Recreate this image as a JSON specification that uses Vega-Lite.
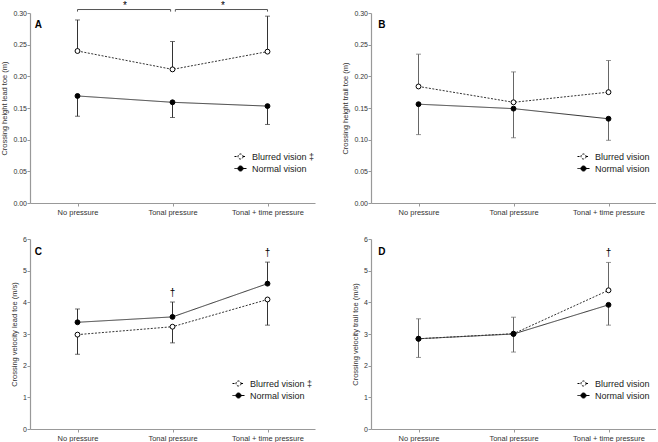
{
  "$schema": "https://vega.github.io/schema/vega-lite/v6.json",
  "padding": 0,
  "background": "white",
  "config": {
    "font": "Liberation Sans",
    "view": {"stroke": null},
    "axis": {
      "grid": false,
      "domainColor": "#999",
      "domainWidth": 1.2,
      "tickColor": "#999",
      "tickSize": 3,
      "labelFontSize": 7.5,
      "labelColor": "#333",
      "labelOverlap": false,
      "labelBound": false,
      "titleFontSize": 7.5,
      "titleFontWeight": "normal",
      "titleColor": "#333"
    },
    "axisY": {"labelFontSize": 7, "labelPadding": 0.5, "titlePadding": 4, "labelOverlap": false},
    "axisX": {"labelPadding": 2},
    "legend": {
      "orient": "none",
      "title": null,
      "padding": 0,
      "symbolType": "M-1,0L-0.42,0M0.42,0L1,0M0.42,0A0.42,0.42,0,1,1,-0.42,0A0.42,0.42,0,1,1,0.42,0Z",
      "symbolSize": 144,
      "symbolStrokeColor": "black",
      "symbolStrokeWidth": 1,
      "labelFontSize": 9,
      "labelColor": "#222",
      "labelOffset": 5,
      "rowPadding": 0
    }
  },
  "datasets": {
    "pts": [
      {"panel": "A", "cond": "No pressure", "pos": 0, "group": "Blurred vision", "value": 0.240, "err": 0.289},
      {"panel": "A", "cond": "Tonal pressure", "pos": 1, "group": "Blurred vision", "value": 0.211, "err": 0.255},
      {"panel": "A", "cond": "Tonal + time pressure", "pos": 2, "group": "Blurred vision", "value": 0.239, "err": 0.295},
      {"panel": "A", "cond": "No pressure", "pos": 0, "group": "Normal vision", "value": 0.169, "err": 0.137},
      {"panel": "A", "cond": "Tonal pressure", "pos": 1, "group": "Normal vision", "value": 0.159, "err": 0.135},
      {"panel": "A", "cond": "Tonal + time pressure", "pos": 2, "group": "Normal vision", "value": 0.153, "err": 0.124},
      {"panel": "B", "cond": "No pressure", "pos": 0, "group": "Blurred vision", "value": 0.184, "err": 0.235},
      {"panel": "B", "cond": "Tonal pressure", "pos": 1, "group": "Blurred vision", "value": 0.159, "err": 0.207},
      {"panel": "B", "cond": "Tonal + time pressure", "pos": 2, "group": "Blurred vision", "value": 0.175, "err": 0.225},
      {"panel": "B", "cond": "No pressure", "pos": 0, "group": "Normal vision", "value": 0.156, "err": 0.108},
      {"panel": "B", "cond": "Tonal pressure", "pos": 1, "group": "Normal vision", "value": 0.149, "err": 0.103},
      {"panel": "B", "cond": "Tonal + time pressure", "pos": 2, "group": "Normal vision", "value": 0.133, "err": 0.099},
      {"panel": "C", "cond": "No pressure", "pos": 0, "group": "Blurred vision", "value": 2.98, "err": 2.36},
      {"panel": "C", "cond": "Tonal pressure", "pos": 1, "group": "Blurred vision", "value": 3.23, "err": 2.72},
      {"panel": "C", "cond": "Tonal + time pressure", "pos": 2, "group": "Blurred vision", "value": 4.09, "err": 3.28},
      {"panel": "C", "cond": "No pressure", "pos": 0, "group": "Normal vision", "value": 3.37, "err": 3.79},
      {"panel": "C", "cond": "Tonal pressure", "pos": 1, "group": "Normal vision", "value": 3.54, "err": 4.01},
      {"panel": "C", "cond": "Tonal + time pressure", "pos": 2, "group": "Normal vision", "value": 4.59, "err": 5.27},
      {"panel": "D", "cond": "No pressure", "pos": 0, "group": "Blurred vision", "value": 2.85, "err": 3.48},
      {"panel": "D", "cond": "Tonal pressure", "pos": 1, "group": "Blurred vision", "value": 3.01, "err": 3.53},
      {"panel": "D", "cond": "Tonal + time pressure", "pos": 2, "group": "Blurred vision", "value": 4.38, "err": 5.26},
      {"panel": "D", "cond": "No pressure", "pos": 0, "group": "Normal vision", "value": 2.85, "err": 2.26},
      {"panel": "D", "cond": "Tonal pressure", "pos": 1, "group": "Normal vision", "value": 3.00, "err": 2.43},
      {"panel": "D", "cond": "Tonal + time pressure", "pos": 2, "group": "Normal vision", "value": 3.92, "err": 3.28}
    ],
    "ann": [
      {"panel": "A", "kind": "letter", "label": "A", "pos": -0.45, "y": 0.276},
      {"panel": "B", "kind": "letter", "label": "B", "pos": -0.425, "y": 0.276},
      {"panel": "C", "kind": "letter", "label": "C", "pos": -0.45, "y": 5.5},
      {"panel": "D", "kind": "letter", "label": "D", "pos": -0.425, "y": 5.5},
      {"panel": "A", "kind": "mark", "label": "*", "pos": 0.5, "y": 0.3068},
      {"panel": "A", "kind": "mark", "label": "*", "pos": 1.53, "y": 0.3068},
      {"panel": "C", "kind": "mark", "label": "†", "pos": 1, "y": 4.21},
      {"panel": "C", "kind": "mark", "label": "†", "pos": 2, "y": 5.46},
      {"panel": "D", "kind": "mark", "label": "†", "pos": 2, "y": 5.46},
      {"panel": "A", "kind": "bracket", "pos": 0, "pos2": 0.98, "y": 0.3055},
      {"panel": "A", "kind": "bracket", "pos": 1.03, "pos2": 2, "y": 0.3055},
      {"panel": "A", "kind": "end", "pos": 0, "y": 0.3055, "y2": 0.3022},
      {"panel": "A", "kind": "end", "pos": 0.98, "y": 0.3055, "y2": 0.3022},
      {"panel": "A", "kind": "end", "pos": 1.03, "y": 0.3055, "y2": 0.3022},
      {"panel": "A", "kind": "end", "pos": 2, "y": 0.3055, "y2": 0.3022}
    ]
  },
  "columns": 2,
  "spacing": {"row": 36, "column": 56},
  "bounds": "flush",
  "resolve": {
    "scale": {"x": "independent", "y": "independent", "fill": "independent", "strokeDash": "independent"},
    "legend": {"fill": "independent", "strokeDash": "independent"}
  },
  "concat": [
    {
      "width": 285, "height": 190,
      "layer": [
        {
          "data": {"name": "pts"},
          "transform": [{"filter": "datum.panel == 'A'"}],
          "mark": {"type": "rule", "color": "#333", "strokeWidth": 1},
          "encoding": {
            "x": {"field": "pos", "type": "quantitative", "scale": {"domain": [-0.5, 2.5], "nice": false, "zero": false},
              "axis": {"title": null, "values": [0, 1, 2], "labelExpr": "datum.value == 0 ? 'No pressure' : datum.value == 1 ? 'Tonal pressure' : 'Tonal + time pressure'"}},
            "y": {"field": "value", "type": "quantitative", "scale": {"domain": [0, 0.3], "nice": false, "zero": false},
              "axis": {"title": "Crossing height lead toe (m)", "values": [0, 0.05, 0.1, 0.15, 0.2, 0.25, 0.3], "format": ".2f", "labelOverlap": false, "tickCount": 7}},
            "y2": {"field": "err"}
          }
        },
        {
          "data": {"name": "pts"},
          "transform": [{"filter": "datum.panel == 'A'"}],
          "mark": {"type": "tick", "orient": "horizontal", "size": 5, "thickness": 1, "color": "#333"},
          "encoding": {"x": {"field": "pos", "type": "quantitative"}, "y": {"field": "err", "type": "quantitative"}}
        },
        {
          "data": {"name": "pts"},
          "transform": [{"filter": "datum.panel == 'A'"}],
          "mark": {"type": "line", "color": "#333", "strokeWidth": 1},
          "encoding": {
            "x": {"field": "pos", "type": "quantitative"},
            "y": {"field": "value", "type": "quantitative"},
            "strokeDash": {"field": "group", "type": "nominal", "scale": {"domain": ["Blurred vision", "Normal vision"], "range": [[2, 1.5], [1, 0]]},
              "legend": {"legendX": 204, "legendY": 137, "labelExpr": "datum.label == 'Blurred vision' ? 'Blurred vision ‡' : datum.label"}}
          }
        },
        {
          "data": {"name": "pts"},
          "transform": [{"filter": "datum.panel == 'A'"}],
          "mark": {"type": "point", "shape": "circle", "filled": true, "size": 24, "stroke": "black", "strokeWidth": 1, "opacity": 1},
          "encoding": {
            "x": {"field": "pos", "type": "quantitative"},
            "y": {"field": "value", "type": "quantitative"},
            "fill": {"field": "group", "type": "nominal", "scale": {"domain": ["Blurred vision", "Normal vision"], "range": ["white", "black"]},
              "legend": {"legendX": 204, "legendY": 137, "labelExpr": "datum.label == 'Blurred vision' ? 'Blurred vision ‡' : datum.label"}}
          }
        },
        {
          "data": {"name": "ann"},
          "transform": [{"filter": "datum.panel == 'A' && datum.kind == 'bracket'"}],
          "mark": {"type": "rule", "color": "#555", "strokeWidth": 1},
          "encoding": {"x": {"field": "pos", "type": "quantitative"}, "x2": {"field": "pos2"}, "y": {"field": "y", "type": "quantitative"}}
        },
        {
          "data": {"name": "ann"},
          "transform": [{"filter": "datum.panel == 'A' && datum.kind == 'end'"}],
          "mark": {"type": "rule", "color": "#555", "strokeWidth": 1},
          "encoding": {"x": {"field": "pos", "type": "quantitative"}, "y": {"field": "y", "type": "quantitative"}, "y2": {"field": "y2"}}
        },
        {
          "data": {"name": "ann"},
          "transform": [{"filter": "datum.panel == 'A' && datum.kind == 'letter'"}],
          "mark": {"type": "text", "align": "left", "baseline": "alphabetic", "fontSize": 10, "fontWeight": "bold", "color": "black"},
          "encoding": {"x": {"field": "pos", "type": "quantitative"}, "y": {"field": "y", "type": "quantitative"}, "text": {"field": "label"}}
        },
        {
          "data": {"name": "ann"},
          "transform": [{"filter": "datum.panel == 'A' && datum.kind == 'mark'"}],
          "mark": {"type": "text", "align": "center", "baseline": "alphabetic", "fontSize": 10, "color": "black"},
          "encoding": {"x": {"field": "pos", "type": "quantitative"}, "y": {"field": "y", "type": "quantitative"}, "text": {"field": "label"}}
        }
      ]
    },
    {
      "width": 285, "height": 190,
      "layer": [
        {
          "data": {"name": "pts"},
          "transform": [{"filter": "datum.panel == 'B'"}],
          "mark": {"type": "rule", "color": "#666", "strokeWidth": 1},
          "encoding": {
            "x": {"field": "pos", "type": "quantitative", "scale": {"domain": [-0.5, 2.5], "nice": false, "zero": false},
              "axis": {"title": null, "values": [0, 1, 2], "labelExpr": "datum.value == 0 ? 'No pressure' : datum.value == 1 ? 'Tonal pressure' : 'Tonal + time pressure'"}},
            "y": {"field": "value", "type": "quantitative", "scale": {"domain": [0, 0.3], "nice": false, "zero": false},
              "axis": {"title": "Crossing height trail toe (m)", "values": [0, 0.05, 0.1, 0.15, 0.2, 0.25, 0.3], "format": ".2f", "labelOverlap": false, "tickCount": 7}},
            "y2": {"field": "err"}
          }
        },
        {
          "data": {"name": "pts"},
          "transform": [{"filter": "datum.panel == 'B'"}],
          "mark": {"type": "tick", "orient": "horizontal", "size": 5, "thickness": 1, "color": "#666"},
          "encoding": {"x": {"field": "pos", "type": "quantitative"}, "y": {"field": "err", "type": "quantitative"}}
        },
        {
          "data": {"name": "pts"},
          "transform": [{"filter": "datum.panel == 'B'"}],
          "mark": {"type": "line", "color": "#333", "strokeWidth": 1},
          "encoding": {
            "x": {"field": "pos", "type": "quantitative"},
            "y": {"field": "value", "type": "quantitative"},
            "strokeDash": {"field": "group", "type": "nominal", "scale": {"domain": ["Blurred vision", "Normal vision"], "range": [[2, 1.5], [1, 0]]},
              "legend": {"legendX": 206, "legendY": 137}}
          }
        },
        {
          "data": {"name": "pts"},
          "transform": [{"filter": "datum.panel == 'B'"}],
          "mark": {"type": "point", "shape": "circle", "filled": true, "size": 24, "stroke": "black", "strokeWidth": 1, "opacity": 1},
          "encoding": {
            "x": {"field": "pos", "type": "quantitative"},
            "y": {"field": "value", "type": "quantitative"},
            "fill": {"field": "group", "type": "nominal", "scale": {"domain": ["Blurred vision", "Normal vision"], "range": ["white", "black"]},
              "legend": {"legendX": 206, "legendY": 137}}
          }
        },
        {
          "data": {"name": "ann"},
          "transform": [{"filter": "datum.panel == 'B' && datum.kind == 'letter'"}],
          "mark": {"type": "text", "align": "left", "baseline": "alphabetic", "fontSize": 10, "fontWeight": "bold", "color": "black"},
          "encoding": {"x": {"field": "pos", "type": "quantitative"}, "y": {"field": "y", "type": "quantitative"}, "text": {"field": "label"}}
        }
      ]
    },
    {
      "width": 285, "height": 190,
      "layer": [
        {
          "data": {"name": "pts"},
          "transform": [{"filter": "datum.panel == 'C'"}],
          "mark": {"type": "rule", "color": "#333", "strokeWidth": 1},
          "encoding": {
            "x": {"field": "pos", "type": "quantitative", "scale": {"domain": [-0.5, 2.5], "nice": false, "zero": false},
              "axis": {"title": null, "values": [0, 1, 2], "labelExpr": "datum.value == 0 ? 'No pressure' : datum.value == 1 ? 'Tonal pressure' : 'Tonal + time pressure'"}},
            "y": {"field": "value", "type": "quantitative", "scale": {"domain": [0, 6], "nice": false, "zero": false},
              "axis": {"title": "Crossing velocity lead toe (m/s)", "values": [0, 1, 2, 3, 4, 5, 6], "format": "d", "labelOverlap": false, "tickCount": 7}},
            "y2": {"field": "err"}
          }
        },
        {
          "data": {"name": "pts"},
          "transform": [{"filter": "datum.panel == 'C'"}],
          "mark": {"type": "tick", "orient": "horizontal", "size": 5, "thickness": 1, "color": "#333"},
          "encoding": {"x": {"field": "pos", "type": "quantitative"}, "y": {"field": "err", "type": "quantitative"}}
        },
        {
          "data": {"name": "pts"},
          "transform": [{"filter": "datum.panel == 'C'"}],
          "mark": {"type": "line", "color": "#333", "strokeWidth": 1},
          "encoding": {
            "x": {"field": "pos", "type": "quantitative"},
            "y": {"field": "value", "type": "quantitative"},
            "strokeDash": {"field": "group", "type": "nominal", "scale": {"domain": ["Blurred vision", "Normal vision"], "range": [[2, 1.5], [1, 0]]},
              "legend": {"legendX": 202, "legendY": 138, "labelExpr": "datum.label == 'Blurred vision' ? 'Blurred vision ‡' : datum.label"}}
          }
        },
        {
          "data": {"name": "pts"},
          "transform": [{"filter": "datum.panel == 'C'"}],
          "mark": {"type": "point", "shape": "circle", "filled": true, "size": 24, "stroke": "black", "strokeWidth": 1, "opacity": 1},
          "encoding": {
            "x": {"field": "pos", "type": "quantitative"},
            "y": {"field": "value", "type": "quantitative"},
            "fill": {"field": "group", "type": "nominal", "scale": {"domain": ["Blurred vision", "Normal vision"], "range": ["white", "black"]},
              "legend": {"legendX": 202, "legendY": 138, "labelExpr": "datum.label == 'Blurred vision' ? 'Blurred vision ‡' : datum.label"}}
          }
        },
        {
          "data": {"name": "ann"},
          "transform": [{"filter": "datum.panel == 'C' && datum.kind == 'letter'"}],
          "mark": {"type": "text", "align": "left", "baseline": "alphabetic", "fontSize": 10, "fontWeight": "bold", "color": "black"},
          "encoding": {"x": {"field": "pos", "type": "quantitative"}, "y": {"field": "y", "type": "quantitative"}, "text": {"field": "label"}}
        },
        {
          "data": {"name": "ann"},
          "transform": [{"filter": "datum.panel == 'C' && datum.kind == 'mark'"}],
          "mark": {"type": "text", "align": "center", "baseline": "alphabetic", "fontSize": 10, "color": "black"},
          "encoding": {"x": {"field": "pos", "type": "quantitative"}, "y": {"field": "y", "type": "quantitative"}, "text": {"field": "label"}}
        }
      ]
    },
    {
      "width": 285, "height": 190,
      "layer": [
        {
          "data": {"name": "pts"},
          "transform": [{"filter": "datum.panel == 'D'"}],
          "mark": {"type": "rule", "color": "#666", "strokeWidth": 1},
          "encoding": {
            "x": {"field": "pos", "type": "quantitative", "scale": {"domain": [-0.5, 2.5], "nice": false, "zero": false},
              "axis": {"title": null, "values": [0, 1, 2], "labelExpr": "datum.value == 0 ? 'No pressure' : datum.value == 1 ? 'Tonal pressure' : 'Tonal + time pressure'"}},
            "y": {"field": "value", "type": "quantitative", "scale": {"domain": [0, 6], "nice": false, "zero": false},
              "axis": {"title": "Crossing velocity trail toe (m/s)", "values": [0, 1, 2, 3, 4, 5, 6], "format": "d", "labelOverlap": false, "tickCount": 7}},
            "y2": {"field": "err"}
          }
        },
        {
          "data": {"name": "pts"},
          "transform": [{"filter": "datum.panel == 'D'"}],
          "mark": {"type": "tick", "orient": "horizontal", "size": 5, "thickness": 1, "color": "#666"},
          "encoding": {"x": {"field": "pos", "type": "quantitative"}, "y": {"field": "err", "type": "quantitative"}}
        },
        {
          "data": {"name": "pts"},
          "transform": [{"filter": "datum.panel == 'D'"}],
          "mark": {"type": "line", "color": "#333", "strokeWidth": 1},
          "encoding": {
            "x": {"field": "pos", "type": "quantitative"},
            "y": {"field": "value", "type": "quantitative"},
            "strokeDash": {"field": "group", "type": "nominal", "scale": {"domain": ["Blurred vision", "Normal vision"], "range": [[2, 1.5], [1, 0]]},
              "legend": {"legendX": 206, "legendY": 138}}
          }
        },
        {
          "data": {"name": "pts"},
          "transform": [{"filter": "datum.panel == 'D'"}],
          "mark": {"type": "point", "shape": "circle", "filled": true, "size": 24, "stroke": "black", "strokeWidth": 1, "opacity": 1},
          "encoding": {
            "x": {"field": "pos", "type": "quantitative"},
            "y": {"field": "value", "type": "quantitative"},
            "fill": {"field": "group", "type": "nominal", "scale": {"domain": ["Blurred vision", "Normal vision"], "range": ["white", "black"]},
              "legend": {"legendX": 206, "legendY": 138}}
          }
        },
        {
          "data": {"name": "ann"},
          "transform": [{"filter": "datum.panel == 'D' && datum.kind == 'letter'"}],
          "mark": {"type": "text", "align": "left", "baseline": "alphabetic", "fontSize": 10, "fontWeight": "bold", "color": "black"},
          "encoding": {"x": {"field": "pos", "type": "quantitative"}, "y": {"field": "y", "type": "quantitative"}, "text": {"field": "label"}}
        },
        {
          "data": {"name": "ann"},
          "transform": [{"filter": "datum.panel == 'D' && datum.kind == 'mark'"}],
          "mark": {"type": "text", "align": "center", "baseline": "alphabetic", "fontSize": 10, "color": "black"},
          "encoding": {"x": {"field": "pos", "type": "quantitative"}, "y": {"field": "y", "type": "quantitative"}, "text": {"field": "label"}}
        }
      ]
    }
  ]
}
